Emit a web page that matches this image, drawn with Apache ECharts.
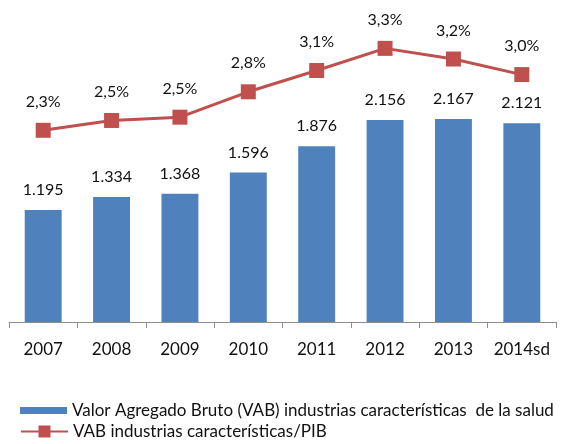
<!DOCTYPE html>
<html>
<head>
<meta charset="utf-8">
<script src="https://cdn.jsdelivr.net/npm/echarts@6/dist/echarts.min.js"></script>
<style>
  html, body { margin: 0; padding: 0; background: #fff; }
  #chart { width: 566px; height: 444px; }
</style>
</head>
<body>
<div id="chart"></div>
<script>
var years = ['2007', '2008', '2009', '2010', '2011', '2012', '2013', '2014sd'];
// VAB, miles de millones
var vabValues = [1195, 1334, 1368, 1596, 1876, 2156, 2167, 2121];
// VAB / PIB (%)
var ratioValues = [2.34, 2.46, 2.50, 2.81, 3.07, 3.34, 3.21, 3.02];

var barName = 'Valor Agregado Bruto (VAB) industrias características  de la salud';
var lineName = 'VAB industrias características/PIB';

var FONT = 'Lato';
var BLUE = '#4F81BD';
var RED = '#C0504D';

var chart = echarts.init(document.getElementById('chart'));

function fmtThousands(v) {
  return String(v).replace(/\B(?=(\d{3})+(?!\d))/g, '.');
}

chart.setOption({
  animation: false,
  textStyle: { fontFamily: FONT },
  grid: { left: 9, right: 10, top: 41, bottom: 122 },
  legend: [
    {
      data: [barName],
      left: 15,
      top: 397,
      itemWidth: 47,
      itemHeight: 7,
      icon: 'rect',
      textStyle: { fontFamily: FONT, fontSize: 17, color: '#111' }
    },
    {
      data: [lineName],
      left: 15,
      top: 418,
      itemWidth: 47,
      itemHeight: 15,
      textStyle: { fontFamily: FONT, fontSize: 17, color: '#111' }
    }
  ],
  xAxis: {
    type: 'category',
    data: years,
    axisLine: { lineStyle: { color: '#8c8c8c', width: 1 } },
    axisTick: { show: true, length: 6, lineStyle: { color: '#8c8c8c' } },
    axisLabel: { color: '#111', fontSize: 17, margin: 19, fontFamily: FONT, interval: 0 }
  },
  yAxis: [
    { type: 'value', min: 0, max: 3000, show: false, splitLine: { show: false } },
    { type: 'value', min: 0, max: 3.43, show: false, splitLine: { show: false } }
  ],
  series: [
    {
      name: barName,
      type: 'bar',
      data: vabValues,
      barWidth: '54%',
      itemStyle: { color: BLUE },
      label: {
        show: true,
        position: 'top',
        distance: 12,
        fontSize: 16,
        color: '#111',
        fontFamily: FONT,
        formatter: function (p) { return fmtThousands(p.value); }
      }
    },
    {
      name: lineName,
      type: 'line',
      yAxisIndex: 1,
      data: ratioValues,
      symbol: 'rect',
      symbolSize: 15,
      lineStyle: { color: RED, width: 3 },
      itemStyle: { color: RED },
      label: {
        show: true,
        position: 'top',
        distance: 13,
        fontSize: 16,
        color: '#111',
        fontFamily: FONT,
        formatter: function (p) { return p.value.toFixed(1).replace('.', ',') + '%'; }
      }
    }
  ]
});
</script>
</body>
</html>
